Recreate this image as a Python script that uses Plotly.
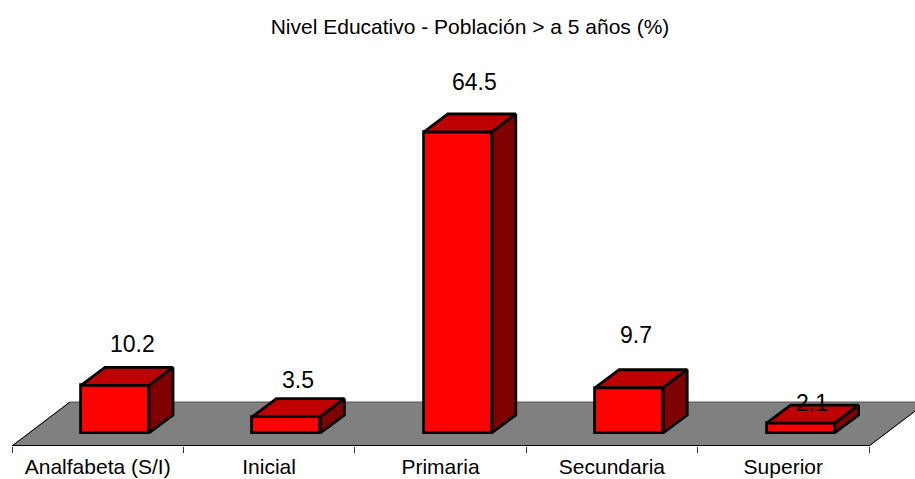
import plotly.graph_objects as go

categories = ["Analfabeta (S/I)", "Inicial", "Primaria", "Secundaria", "Superior"]
values = [10.2, 3.5, 64.5, 9.7, 2.1]
labels = ["10.2", "3.5", "64.5", "9.7", "2.1"]
title_text = "Nivel Educativo - Población > a 5 años (%)"

# layout geometry (pixels)
W, H = 915, 479
FLOOR_BOTTOM = 446
BASE_PX = 433
PX_PER_VAL = 301 / 64.5
CAT_PX = 171.4
FIRST_CENTER = 97.7
DEPTH_X, DEPTH_Y = 24, 18
BAR_OFFSET_PX, BAR_W_PX = 17.3, 68
FLOOR_DX, FLOOR_DY = 58, 44
LABEL_LIFT = [23, 19, 32, 35, 2]  # pixels above the back top edge
LABEL_XSHIFT = [-1, -6, -1, -11, -7]  # pixels

dx = DEPTH_X / CAT_PX
dy = DEPTH_Y / PX_PER_VAL
off = BAR_OFFSET_PX / CAT_PX
bw = BAR_W_PX / CAT_PX
idx = list(range(len(categories)))
y_low = (BASE_PX - FLOOR_BOTTOM) / PX_PER_VAL
y_high = BASE_PX / PX_PER_VAL
x_low = -FIRST_CENTER / CAT_PX
x_high = (W - FIRST_CENTER) / CAT_PX

fig = go.Figure()
LW = 2.8
fig.add_trace(go.Bar(
    x=[i + off for i in idx], y=values, width=bw,
    marker=dict(color="#FF0000", line=dict(color="black", width=LW)),
    hoverinfo="skip", showlegend=False))

for i, v in zip(idx, values):
    xl = i + off - bw / 2
    xr = i + off + bw / 2
    fig.add_trace(go.Scatter(
        x=[xl, xl + dx, xr + dx, xr, xl], y=[v, v + dy, v + dy, v, v],
        mode="lines", fill="toself", fillcolor="#BF0000",
        line=dict(color="black", width=LW), hoverinfo="skip", showlegend=False))
    fig.add_trace(go.Scatter(
        x=[xr, xr + dx, xr + dx, xr, xr], y=[v, v + dy, dy, 0, v],
        mode="lines", fill="toself", fillcolor="#800000",
        line=dict(color="black", width=LW), hoverinfo="skip", showlegend=False))

# floor
fx0, fx1 = -0.5, len(categories) - 0.5
fdx = FLOOR_DX / CAT_PX
fdy = FLOOR_DY / PX_PER_VAL
floor_path = (f"M {fx0} {y_low} L {fx0 + fdx} {y_low + fdy} L {fx1 + fdx} {y_low + fdy} "
              f"L {fx1} {y_low} Z")
shapes = [
    dict(type="path", path=floor_path, xref="x", yref="y", layer="below",
         fillcolor="#808080", line=dict(color="#555555", width=1)),
    dict(type="line", xref="x", yref="y", x0=fx0, x1=fx1, y0=y_low, y1=y_low,
         layer="above", line=dict(color="black", width=1.8)),
    dict(type="line", xref="x", yref="y", x0=fx0, x1=fx0 + fdx, y0=y_low, y1=y_low + fdy,
         layer="below", line=dict(color="black", width=1)),
    dict(type="line", xref="x", yref="y", x0=fx1, x1=fx1 + fdx, y0=y_low, y1=y_low + fdy,
         layer="below", line=dict(color="black", width=1)),
]

annotations = []
for i, v, t, lift, xs in zip(idx, values, labels, LABEL_LIFT, LABEL_XSHIFT):
    annotations.append(dict(
        x=i + off + dx * 0.75, y=v + dy, xref="x", yref="y", text=t,
        showarrow=False, yshift=lift, xshift=xs, xanchor="center", yanchor="middle",
        font=dict(family="Liberation Sans", size=23, color="black")))

fig.update_layout(
    width=W, height=H, autosize=False,
    margin=dict(l=0, r=0, t=0, b=H - FLOOR_BOTTOM, pad=0),
    paper_bgcolor="white", plot_bgcolor="white",
    showlegend=False, bargap=0,
    title=dict(text=title_text, x=470 / W, xanchor="center", y=1 - 27 / H, yanchor="middle",
               font=dict(family="Liberation Sans", size=21, color="black")),
    xaxis=dict(range=[x_low, x_high], tickmode="array", tickvals=idx, ticktext=categories,
               ticks="", showgrid=False, zeroline=False, showline=False, automargin=False,
               tickfont=dict(family="Liberation Sans", size=21, color="black"),
               ticklabelstandoff=6,
               minor=dict(tickmode="array", tickvals=[k - 0.5 for k in range(len(categories) + 1)],
                          ticks="outside", ticklen=6, tickcolor="#333333", tickwidth=1, showgrid=False)),
    yaxis=dict(range=[y_low, y_high], visible=False, showgrid=False, zeroline=False, automargin=False),
    shapes=shapes, annotations=annotations,
)
fig.write_html("out.html", config=dict(displayModeBar=False),
               post_script="document.body.style.margin='0';document.documentElement.style.overflow='hidden';")
